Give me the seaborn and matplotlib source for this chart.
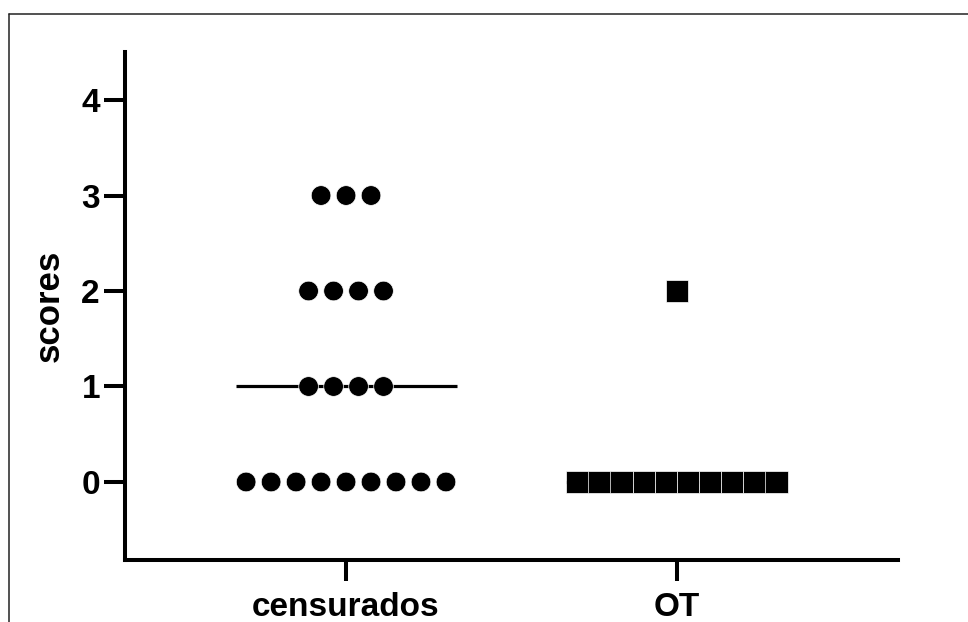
import numpy as np
import pandas as pd
import matplotlib
matplotlib.use("Agg")
import matplotlib.pyplot as plt
from matplotlib.lines import Line2D
import seaborn as sns

# ---- data ----
categories = ["censurados", "OT"]
censurados_scores = [0, 0, 0, 0, 0, 0, 0, 0, 0, 1, 1, 1, 1, 2, 2, 2, 2, 3, 3, 3]
ot_scores = [0, 0, 0, 0, 0, 0, 0, 0, 0, 0, 2]
y_ticks = [0, 1, 2, 3, 4]
y_label = "scores"

# ---- styling ----
sns.set_style("ticks")
plt.rcParams["font.family"] = ["Liberation Sans", "DejaVu Sans"]
plt.rcParams["font.weight"] = "bold"
plt.rcParams["axes.labelweight"] = "bold"
plt.rcParams["text.color"] = "black"
plt.rcParams["axes.labelcolor"] = "black"

df = pd.DataFrame({
    "group": ["censurados"] * len(censurados_scores) + ["OT"] * len(ot_scores),
    "score": censurados_scores + ot_scores,
})
df["code"] = df["group"].map({c: i for i, c in enumerate(categories)})

# centered horizontal layout of tied points (scatter-dot-plot style)
spacing = {"censurados": 0.0755, "OT": 0.0668}
df["rank"] = df.groupby(["group", "score"]).cumcount()
df["n"] = df.groupby(["group", "score"])["score"].transform("size")
df["xpos"] = df["code"] + (df["rank"] - (df["n"] - 1) / 2) * df["group"].map(spacing)

W, H = 968, 622
fig = plt.figure(figsize=(W / 100, H / 100), dpi=100)
ax = fig.add_axes([125 / W, 1 - 560 / H, (898 - 125) / W, (560 - 52) / H])

# median lines
sns.boxplot(data=df, x="code", y="score", native_scale=True, width=0.668,
            showbox=False, showcaps=False, showfliers=False,
            whiskerprops={"visible": False},
            medianprops={"color": "black", "linewidth": 2.3},
            ax=ax)

sns.scatterplot(data=df, x="xpos", y="score", style="group", size="group",
                markers={"censurados": "o", "OT": "s"},
                sizes={"censurados": 200, "OT": 262},
                color="black", edgecolor="white", linewidth=0.5,
                legend=False, zorder=3, ax=ax)

ax.set_xlim(-0.668, 1.668)
ax.set_ylim(-0.817, 4.503)
ax.set_xticks(range(len(categories)), categories)
ax.set_yticks(y_ticks)
ax.set_xlabel("")
ax.set_ylabel(y_label, fontsize=25, fontweight="bold", color="black", labelpad=11)

for side in ["top", "right"]:
    ax.spines[side].set_visible(False)
for side in ["left", "bottom"]:
    ax.spines[side].set_linewidth(2.9)
    ax.spines[side].set_color("black")
ax.tick_params(axis="both", direction="out", length=15, width=2.9,
               color="black", labelsize=24, labelcolor="black")
ax.tick_params(axis="x", pad=8)
ax.tick_params(axis="y", pad=3)
for lab in ax.get_xticklabels() + ax.get_yticklabels():
    lab.set_fontweight("bold")

# frame of the original panel (clipped at right and bottom)
fig.add_artist(Line2D([8.5 / W, 1.0], [1 - 13.5 / H, 1 - 13.5 / H],
                      transform=fig.transFigure, color="#222222", lw=1.1))
fig.add_artist(Line2D([8.5 / W, 8.5 / W], [1 - 13.5 / H, 0.0],
                      transform=fig.transFigure, color="#222222", lw=1.1))

fig.savefig("out.png", dpi=100, facecolor="white")
